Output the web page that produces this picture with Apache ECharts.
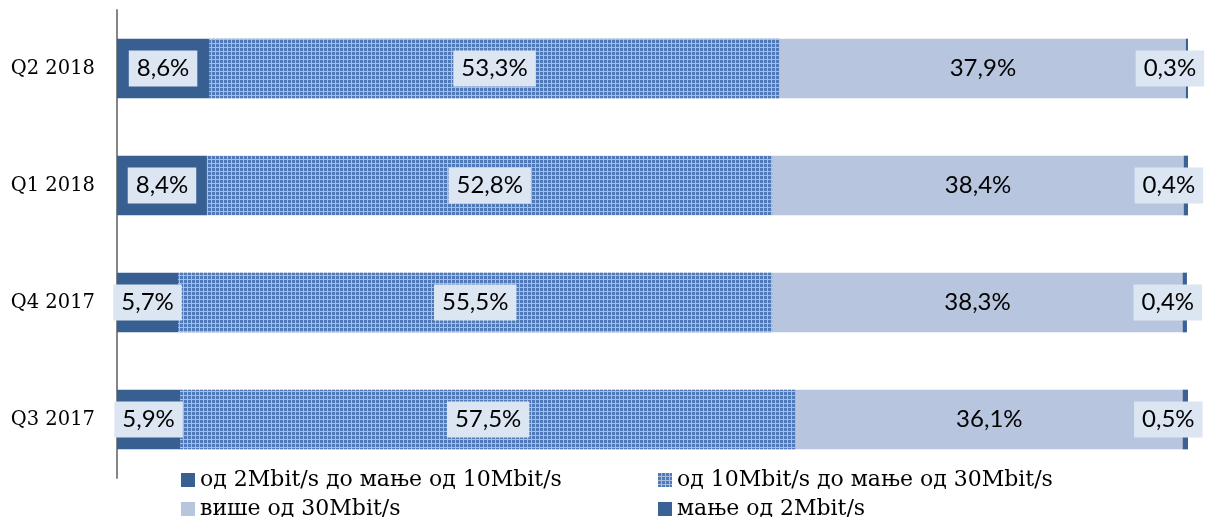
<!DOCTYPE html>
<html><head><meta charset="utf-8">
<script src="https://cdn.jsdelivr.net/npm/echarts@6/dist/echarts.min.js"></script>
<style>html,body{margin:0;padding:0;background:#fff}#c{width:1211px;height:517px}</style>
</head><body><div id="c"></div>
<script>
const categories = ['Q3 2017','Q4 2017','Q1 2018','Q2 2018'];
const seriesNames = ['од 2Mbit/s до мање од 10Mbit/s','од 10Mbit/s до мање од 30Mbit/s','више од 30Mbit/s','мање од 2Mbit/s'];
const s2to10 = [5.9, 5.7, 8.4, 8.6];
const s10to30 = [57.5, 55.5, 52.8, 53.3];
const sOver30 = [36.1, 38.3, 38.4, 37.9];
const sUnder2 = [0.5, 0.4, 0.4, 0.3];

const fmt = p => p.value.toFixed(1).replace('.', ',') + '%';
const lblBase = {show:true, formatter:fmt, fontFamily:'Lato, "Liberation Sans", sans-serif', fontSize:24, color:'#000', backgroundColor:'#dce6f2', padding:[7,8,5,8]};

const chart = echarts.init(document.getElementById('c'), null, {renderer:'canvas'});
chart.setOption({
  animation:false,
  grid:{left:117, right:23, top:10, bottom:39, containLabel:false},
  xAxis:{type:'value', min:0, max:100, show:false},
  yAxis:{type:'category', data:categories,
    axisLine:{show:true, lineStyle:{color:'#868686', width:2}},
    axisTick:{show:false},
    axisLabel:{margin:22, fontFamily:'"DejaVu Serif", serif', fontSize:19.5, color:'#000'}},
  legend:{data:[seriesNames[0], seriesNames[2], seriesNames[1], seriesNames[3]],
    orient:'vertical', left:181, top:468, height:62, padding:0,
    icon:'rect', itemWidth:14, itemHeight:14, itemGap:5,
    textStyle:{fontFamily:'"DejaVu Serif", serif', fontSize:22, lineHeight:24, color:'#000', width:453, overflow:'none'}},
  series:[
    {name:seriesNames[0], type:'bar', stack:'t', barWidth:'51%', data:s2to10,
      itemStyle:{color:'#375f92'}, label:Object.assign({}, lblBase, {position:'inside'})},
    {name:seriesNames[1], type:'bar', stack:'t', data:s10to30,
      itemStyle:{color:'#a8bde0', decal:{symbol:'rect', symbolSize:1, dashArrayX:[[3,1]], dashArrayY:[3,1], color:'#5079b8'}},
      label:Object.assign({}, lblBase, {position:'inside'})},
    {name:seriesNames[2], type:'bar', stack:'t', data:sOver30,
      itemStyle:{color:'#b8c5de'}, label:Object.assign({}, lblBase, {position:'inside', backgroundColor:'transparent'})},
    {name:seriesNames[3], type:'bar', stack:'t', data:sUnder2,
      itemStyle:{color:'#3a6296'}, label:Object.assign({}, lblBase, {position:'inside', offset:[-17,0]})}
  ]
});
</script></body></html>
